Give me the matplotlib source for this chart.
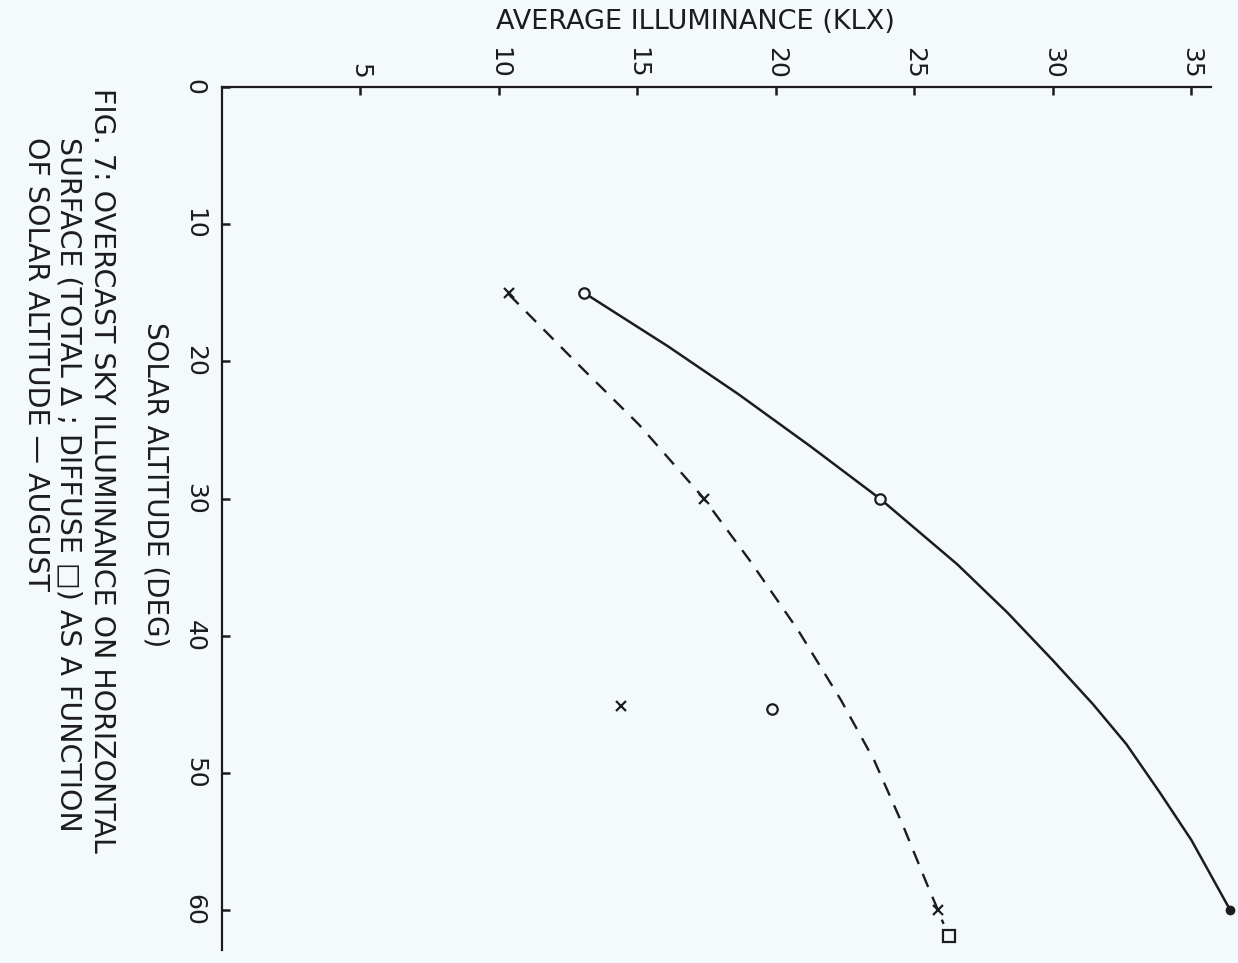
import matplotlib.pyplot as plt

total_curve_alt = [15.0, 18.9, 22.4, 26.2, 30.0, 34.8, 38.3, 41.8, 45.0, 47.9, 51.4, 54.9, 60.0]
total_curve_ill = [13.07, 16.1, 18.65, 21.25, 23.75, 26.55, 28.35, 30.0, 31.45, 32.65, 33.85, 35.0, 36.4]
diffuse_curve_alt = [15.1, 20.1, 24.6, 30.0, 34.5, 39.6, 44.7, 49.1, 53.9, 58.1, 60.0, 61.0]
diffuse_curve_ill = [10.35, 12.8, 15.05, 17.4, 19.05, 20.8, 22.35, 23.55, 24.6, 25.45, 25.85, 26.05]

total_pts_alt = [15.0, 30.0, 45.3]
total_pts_ill = [13.07, 23.75, 19.86]
diffuse_pts_alt = [15.0, 30.0, 45.1, 60.0]
diffuse_pts_ill = [10.35, 17.4, 14.4, 25.85]
total_end_alt, total_end_ill = 60.0, 36.4
square_alt, square_ill = 61.9, 26.25

ill_ticks = [5, 10, 15, 20, 25, 30, 35]
alt_ticks = [0, 10, 20, 30, 40, 50, 60]

bg = '#f4fafb'
ink = '#1c1c1c'

W, H = 1238, 963
fig = plt.figure(figsize=(W / 100, H / 100), dpi=100, facecolor=bg)
plt.rcParams['font.family'] = ['DejaVu Sans']

# axes: x = illuminance (horizontal on page), y = altitude going down
ax = fig.add_axes([222 / W, 0, (W - 222) / W, (H - 87) / H])
ax.set_facecolor(bg)
ax.set_xlim(0, 36.68)
ax.set_ylim(63.85, 0)

for s in ['right', 'bottom']:
    ax.spines[s].set_visible(False)
ax.spines['top'].set_bounds(0, 35.7)
ax.spines['left'].set_bounds(0, 62.9)
for s in ['top', 'left']:
    ax.spines[s].set_linewidth(1.6)
    ax.spines[s].set_color(ink)

ax.xaxis.tick_top()
ax.set_xticks(ill_ticks)
ax.set_xticklabels([str(t) for t in ill_ticks], rotation=270, fontsize=18, color=ink)
ax.set_yticks(alt_ticks)
ax.set_yticklabels([str(t) for t in alt_ticks], rotation=270, fontsize=18, color=ink,
                   va='center')
ax.tick_params(axis='x', direction='in', length=6, width=1.8, pad=6, colors=ink)
ax.tick_params(axis='y', direction='in', length=6, width=1.8, pad=11, colors=ink)

# curves
ax.plot(total_curve_ill, total_curve_alt, color=ink, lw=1.8, clip_on=False)
ax.plot(diffuse_curve_ill, diffuse_curve_alt, color=ink, lw=1.7, dashes=(6, 4.5))

# measured points
ax.plot(total_pts_ill, total_pts_alt, 'o', ms=7.5, mfc=bg, mec=ink, mew=1.6)
ax.plot(diffuse_pts_ill, diffuse_pts_alt, 'x', ms=7.5, color=ink, mew=1.6)
ax.plot([total_end_ill], [total_end_alt], 'o', ms=6, color=ink, clip_on=False)
ax.plot([square_ill], [square_alt], 's', ms=9, mfc=bg, mec=ink, mew=1.6)

# titles
fig.text(695 / W, 1 - 22 / H, 'AVERAGE ILLUMINANCE (KLX)', ha='center', va='center',
         fontsize=19.5, color=ink)
fig.text(155 / W, 1 - 485 / H, 'SOLAR ALTITUDE (DEG)', ha='center', va='center',
         rotation=270, fontsize=20, color=ink)

cap = ['FIG. 7: OVERCAST SKY ILLUMINANCE ON HORIZONTAL',
       'SURFACE (TOTAL \u0394 ; DIFFUSE \u25a1) AS A FUNCTION',
       'OF SOLAR ALTITUDE \u2014 AUGUST']
cap_x = [102, 69, 36]
cap_y = [88, 137, 137]
for txt, cx, cy in zip(cap, cap_x, cap_y):
    fig.text(cx / W, 1 - cy / H, txt, ha='center', va='top', rotation=270,
             fontsize=20.5, color=ink)

fig.savefig('out.png', dpi=100, facecolor=bg)
